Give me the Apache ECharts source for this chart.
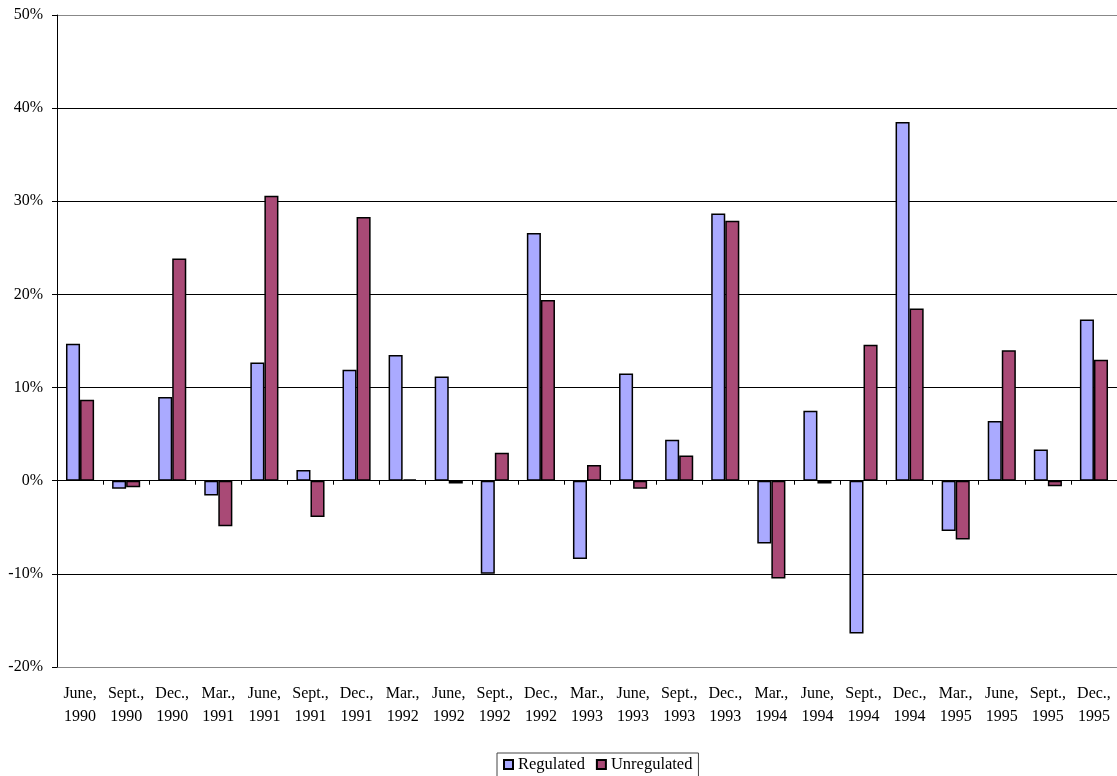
<!DOCTYPE html>
<html>
<head>
<meta charset="utf-8">
<script src="https://cdn.jsdelivr.net/npm/echarts@6/dist/echarts.min.js"></script>
<style>
html,body{margin:0;padding:0;background:#fff;}
#chart{width:1117px;height:776px;}
</style>
</head>
<body>
<div id="chart"></div>
<script>
const categories = ["June,\n1990","Sept.,\n1990","Dec.,\n1990","Mar.,\n1991","June,\n1991","Sept.,\n1991","Dec.,\n1991","Mar.,\n1992","June,\n1992","Sept.,\n1992","Dec.,\n1992","Mar.,\n1993","June,\n1993","Sept.,\n1993","Dec.,\n1993","Mar.,\n1994","June,\n1994","Sept.,\n1994","Dec.,\n1994","Mar.,\n1995","June,\n1995","Sept.,\n1995","Dec.,\n1995"];
const regulated = [14.7,-0.85,9.0,-1.6,12.7,1.15,11.9,13.5,11.2,-10.0,26.6,-8.4,11.5,4.4,28.7,-6.75,7.5,-16.4,38.5,-5.4,6.4,3.35,17.3];
const unregulated = [8.7,-0.7,23.85,-4.9,30.6,-3.9,28.3,0.15,-0.3,3.0,19.4,1.7,-0.85,2.7,27.9,-10.5,-0.3,14.6,18.5,-6.3,14.0,-0.6,13.0];
const yTicks = {min:-20, max:50, interval:10};

const font = 'Liberation Serif, "Times New Roman", serif';
const chart = echarts.init(document.getElementById('chart'), null, {renderer:'canvas'});
chart.setOption({
  animation:false,
  backgroundColor:'#fff',
  textStyle:{fontFamily:font, color:'#000'},
  grid:{left:57, right:0, top:15, bottom:109, containLabel:false},
  legend:{
    data:['Regulated','Unregulated'],
    left:497, top:753,
    orient:'horizontal',
    itemWidth:9, itemHeight:9, itemGap:11,
    icon:'rect',
    padding:[3,6,6,6],
    borderColor:'#444', borderWidth:1,
    textStyle:{fontFamily:font, fontSize:16.5, color:'#000'}
  },
  xAxis:[{
    type:'category', data:categories,
    axisLine:{onZero:true, lineStyle:{color:'#000', width:1}},
    axisTick:{show:true, length:4, lineStyle:{color:'#000'}},
    axisLabel:{show:false}
  },{
    type:'category', data:categories, position:'bottom',
    axisLine:{show:false, onZero:false},
    axisTick:{show:false},
    axisLabel:{show:true, interval:0, fontFamily:font, fontSize:16, color:'#000', lineHeight:23, margin:15}
  }],
  yAxis:{
    type:'value', min:yTicks.min, max:yTicks.max, interval:yTicks.interval,
    axisLine:{show:true, lineStyle:{color:'#000', width:1}},
    axisTick:{show:true, length:5, lineStyle:{color:'#000'}},
    axisLabel:{formatter:'{value}%', fontFamily:font, fontSize:16, color:'#000', margin:14},
    splitLine:{show:true, lineStyle:{color:['#888','#000','#000','#000','#000','#000','#000','#888'], width:1}}
  },
  series:[{
    name:'Regulated', type:'bar', data:regulated, xAxisIndex:0,
    barGap:'0%', barCategoryGap:'39%',
    itemStyle:{color:'#AAAAFF', borderColor:'#000', borderWidth:1.5}
  },{
    name:'Unregulated', type:'bar', data:unregulated, xAxisIndex:0,
    barGap:'0%', barCategoryGap:'39%',
    itemStyle:{color:'#A94A76', borderColor:'#000', borderWidth:1.5}
  }]
});
</script>
</body>
</html>
